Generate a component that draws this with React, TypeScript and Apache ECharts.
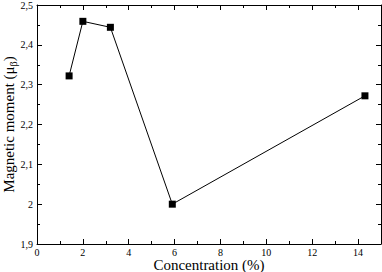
import React, { useEffect, useRef } from "react";
import * as echarts from "echarts";

const concentration = [1.4, 2.0, 3.2, 5.9, 14.3];
const moment = [2.322, 2.459, 2.444, 2.0, 2.272];
const xTitle = "Concentration (%)";
const yTitleMain = "Magnetic moment (μ";
const yTitleSub = "β";

const fmt = (v: number) => String(Math.round(v * 100) / 100).replace(".", ",");

export default function App() {
  const ref = useRef<HTMLDivElement>(null);
  useEffect(() => {
    const chart = echarts.init(ref.current!, null, { renderer: "svg" });
    const font = "'Liberation Serif', 'DejaVu Serif', serif";
    const axisCommon = {
      axisLine: { show: true, onZero: false, lineStyle: { color: "#000", width: 1 } },
      axisTick: { show: true, inside: true, length: 5, lineStyle: { color: "#000" } },
      minorTick: { show: true, splitNumber: 2, length: 3, lineStyle: { color: "#000" } },
      splitLine: { show: false },
    };
    chart.setOption({
      animation: false,
      backgroundColor: "#fff",
      textStyle: { fontFamily: font },
      grid: { left: 37, right: 1, top: 5, bottom: 28, containLabel: false, outerBoundsMode: "none" },
      xAxis: [
        {
          type: "value",
          min: 0,
          max: 15,
          interval: 2,
          position: "bottom",
          ...axisCommon,
          axisLabel: { color: "#000", fontFamily: font, fontSize: 10, margin: 3, showMaxLabel: false },
          name: xTitle,
          nameLocation: "middle",
          nameGap: 13,
          nameMoveOverlap: false,
          nameTextStyle: { color: "#000", fontFamily: font, fontSize: 15 },
        },
        {
          type: "value",
          min: 0,
          max: 15,
          interval: 2,
          position: "top",
          ...axisCommon,
          axisLabel: { show: false },
        },
      ],
      yAxis: [
        {
          type: "value",
          min: 1.9,
          max: 2.5,
          interval: 0.1,
          position: "left",
          ...axisCommon,
          axisLabel: { color: "#000", fontFamily: font, fontSize: 10, margin: 4, formatter: fmt },
          name: "{a|" + yTitleMain + "}{s|" + yTitleSub + "}{a|)}",
          nameLocation: "middle",
          nameRotate: 90,
          nameGap: 19,
          nameMoveOverlap: false,
          nameTextStyle: {
            color: "#000",
            fontFamily: font,
            fontSize: 15,
            rich: {
              a: { fontFamily: font, fontSize: 15, color: "#000", lineHeight: 18 },
              s: { fontFamily: font, fontSize: 10, color: "#000", lineHeight: 18, verticalAlign: "bottom", padding: [6, 0, 0, 0] },
            },
          },
        },
        {
          type: "value",
          min: 1.9,
          max: 2.5,
          interval: 0.1,
          position: "right",
          ...axisCommon,
          axisLabel: { show: false },
        },
      ],
      series: [
        {
          type: "line",
          data: concentration.map((c, i) => [c, moment[i]]),
          symbol: "rect",
          symbolSize: 7,
          itemStyle: { color: "#000" },
          lineStyle: { color: "#000", width: 1 },
        },
      ],
    });
    return () => chart.dispose();
  }, []);
  return <div ref={ref} style={{ width: 382, height: 272, position: "fixed", left: 0, top: 0 }} />;
}
